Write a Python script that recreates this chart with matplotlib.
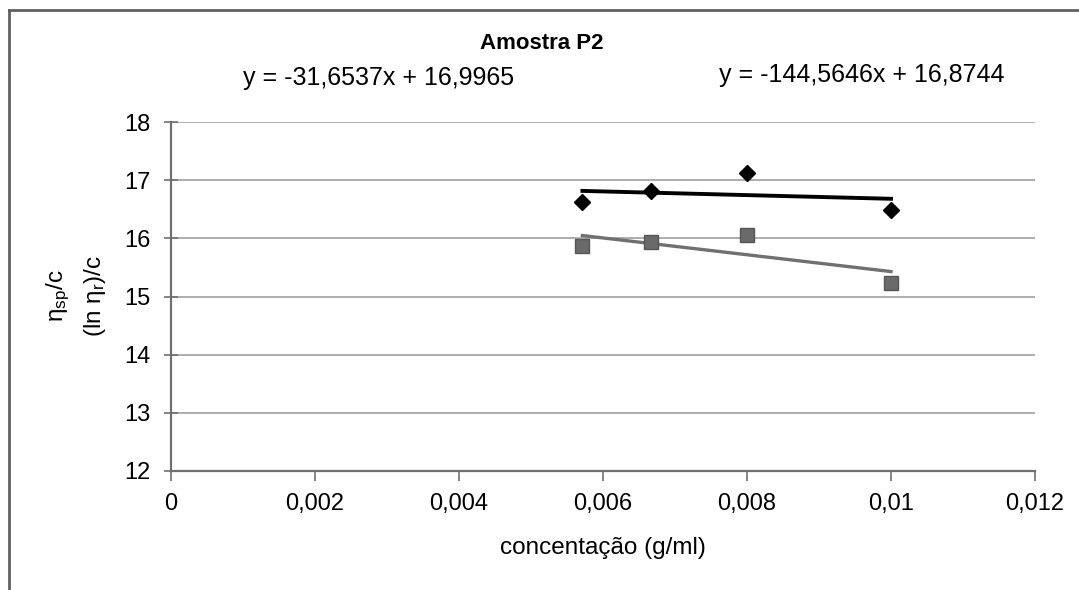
import numpy as np
import matplotlib.pyplot as plt
from matplotlib.lines import Line2D
from matplotlib.ticker import FuncFormatter
import matplotlib as mpl

mpl.rcParams.update({
    'font.family': ['Liberation Sans', 'DejaVu Sans'],
    'mathtext.fontset': 'custom',
    'mathtext.rm': 'Liberation Sans',
    'mathtext.it': 'Liberation Sans',
})

# dados
conc = [0.005714, 0.006667, 0.008, 0.01]
visc_red = [16.63, 16.82, 17.13, 16.48]    # eta_sp/c
visc_inh = [15.86, 15.94, 16.05, 15.24]    # (ln eta_r)/c

# coeficientes das linhas de tendência (do gráfico)
a_red, b_red = -31.6537, 16.9965
a_inh, b_inh = -144.5646, 16.8744
eq_red = "y = -31,6537x + 16,9965"
eq_inh = "y = -144,5646x + 16,8744"

xticks = [0, 0.002, 0.004, 0.006, 0.008, 0.01, 0.012]
yticks = [12, 13, 14, 15, 16, 17, 18]

fig = plt.figure(figsize=(10.79, 5.90), dpi=100)
ax = fig.add_axes([0.1585, 0.2017, 0.8007, 0.5915])

for y in yticks[1:]:
    ax.axhline(y, color='#a0a0a0', lw=1.2, zorder=0)

xl = np.array([min(conc), max(conc)])
ax.plot(xl, a_red * xl + b_red, color='black', lw=2.8, zorder=2)
ax.plot(xl, a_inh * xl + b_inh, color='#707070', lw=2.4, zorder=2)
ax.plot(conc, visc_red, ls='none', marker='D', ms=8.5, color='black', zorder=3)
ax.plot(conc, visc_inh, ls='none', marker='s', ms=9.5, mfc='#6a6a6a',
        mec='#555555', zorder=3)

ax.set_xlim(0, 0.012)
ax.set_ylim(12, 18)
ax.set_xticks(xticks)
ax.set_yticks(yticks)
ax.xaxis.set_major_formatter(FuncFormatter(lambda v, p: ('%g' % v).replace('.', ',')))
for s in ['top', 'right']:
    ax.spines[s].set_visible(False)
for s in ['left', 'bottom']:
    ax.spines[s].set_color('#707070')
    ax.spines[s].set_linewidth(1.6)
ax.tick_params(axis='x', direction='out', length=7, width=1.2, color='#707070',
               labelsize=17, pad=9)
ax.tick_params(axis='y', direction='inout', length=10, width=1.2, color='#707070',
               labelsize=17, pad=10)

ax.set_xlabel("concentação (g/ml)", fontsize=17.5, labelpad=16)

fig.text(0.054, 0.498, r"$\mathregular{\eta_{sp}}$/c", rotation=90,
         ha='center', va='center', fontsize=17.5)
fig.text(0.088, 0.498, r"(ln $\mathregular{\eta_{r}}$)/c", rotation=90,
         ha='center', va='center', fontsize=17.5)

fig.text(0.502, 0.927, "Amostra P2", ha='center', va='center',
         fontsize=16, fontweight='bold')
fig.text(0.351, 0.868, eq_red, ha='center', va='center', fontsize=18)
fig.text(0.799, 0.873, eq_inh, ha='center', va='center', fontsize=18)

# moldura do gráfico
fig.add_artist(Line2D([0.008, 0.008], [0.0, 0.983], color='#606060', lw=2))
fig.add_artist(Line2D([0.008, 1.0], [0.983, 0.983], color='#606060', lw=2))

fig.savefig("out.png", dpi=100)
